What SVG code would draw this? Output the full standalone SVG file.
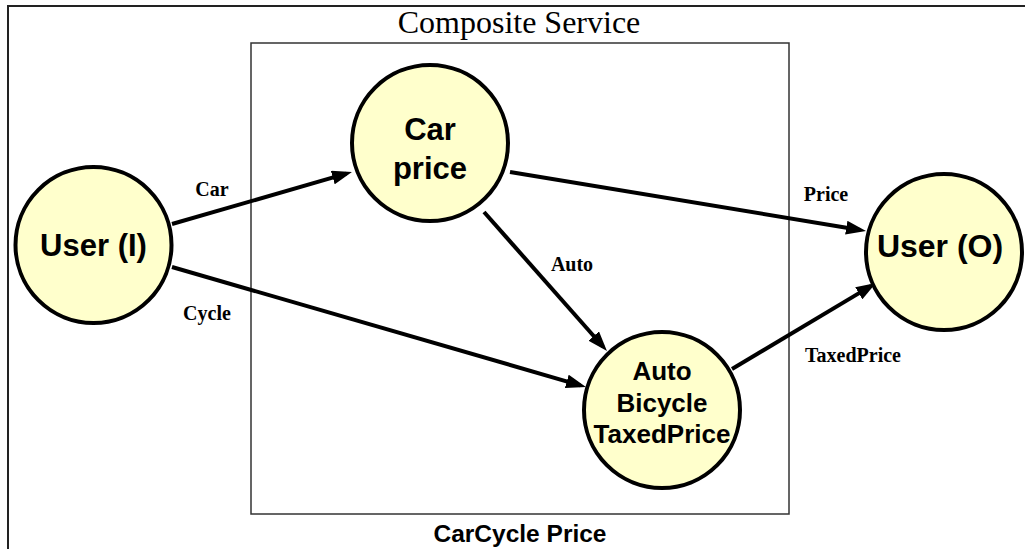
<svg xmlns="http://www.w3.org/2000/svg" width="1025" height="549" viewBox="0 0 1025 549">
  <style>
    .frame { fill: none; stroke: #222; stroke-width: 2; }
    .box { fill: none; stroke: #333; stroke-width: 1.5; }
    .node { fill: #FFFFCC; stroke: #000; stroke-width: 4; }
    .ntext { font-family: "Liberation Sans", Arial, sans-serif; font-weight: bold; fill: #000; text-anchor: middle; }
    .edge { fill: none; stroke: #000; stroke-width: 4; marker-end: url(#arrow); }
    .elabel { font-family: "Liberation Serif", "Times New Roman", serif; font-weight: bold; font-size: 20px; fill: #000; text-anchor: middle; }
  </style>
  <defs>
    <marker id="arrow" markerUnits="userSpaceOnUse" markerWidth="20" markerHeight="14" refX="14" refY="7" orient="auto">
      <path d="M0,0 L20,7 L0,14 z" fill="#000"/>
    </marker>
  </defs>
  <rect width="1025" height="549" fill="#fff"/>

  <!-- outer frame, running past the right and bottom edges -->
  <rect class="frame" x="8" y="6" width="1040" height="560"/>
  <text x="519" y="33" font-family="'Liberation Serif', 'Times New Roman', serif" font-size="32" text-anchor="middle" fill="#000">Composite Service</text>

  <!-- composite service boundary -->
  <rect class="box" x="251" y="43" width="538" height="471"/>
  <text x="520" y="542" font-family="'Liberation Sans', Arial, sans-serif" font-weight="bold" font-size="24.5" text-anchor="middle" fill="#000">CarCycle Price</text>

  <!-- connectors -->
  <g id="connectors">
    <line class="edge" x1="172" y1="224" x2="346.2" y2="173.7"/>
    <line class="edge" x1="172" y1="267" x2="580.2" y2="385.3"/>
    <line class="edge" x1="484" y1="212" x2="603" y2="346.5"/>
    <line class="edge" x1="510" y1="172" x2="860.1" y2="230"/>
    <line class="edge" x1="732" y1="369" x2="870.8" y2="286.1"/>
    <text class="elabel" x="212" y="196">Car</text>
    <text class="elabel" x="207" y="320">Cycle</text>
    <text class="elabel" x="572" y="271">Auto</text>
    <text class="elabel" x="826" y="201">Price</text>
    <text class="elabel" x="853" y="362">TaxedPrice</text>
  </g>

  <g id="user-in">
    <circle class="node" cx="93.5" cy="245" r="78"/>
    <text class="ntext" x="93.5" y="256" font-size="31">User (I)</text>
  </g>

  <g id="car-price">
    <circle class="node" cx="430" cy="143" r="78"/>
    <text class="ntext" x="430" y="140" font-size="31">Car</text>
    <text class="ntext" x="430" y="179" font-size="31">price</text>
  </g>

  <g id="auto-bicycle">
    <circle class="node" cx="662" cy="410" r="78"/>
    <text class="ntext" x="662" y="380" font-size="26">Auto</text>
    <text class="ntext" x="662" y="412" font-size="26">Bicycle</text>
    <text class="ntext" x="662" y="443" font-size="26">TaxedPrice</text>
  </g>

  <g id="user-out">
    <circle class="node" cx="944" cy="252" r="78"/>
    <text class="ntext" x="940" y="257" font-size="32">User (O)</text>
  </g>
</svg>
